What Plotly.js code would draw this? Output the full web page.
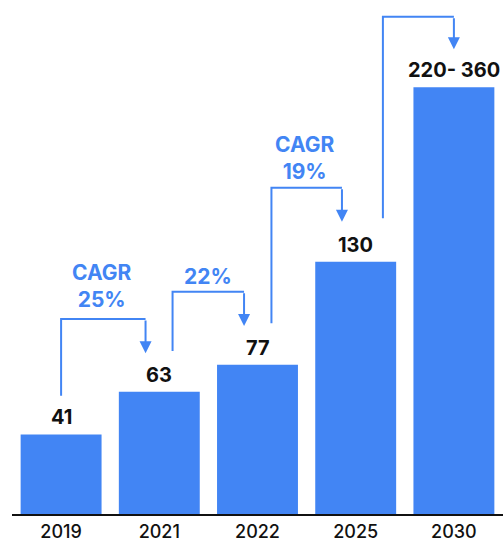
<!DOCTYPE html>
<html>
<head>
<meta charset="utf-8">
<script src="https://cdn.plot.ly/plotly-3.0.1.min.js"></script>
<style>html,body{margin:0;padding:0;background:#fff;}#chart{width:503px;height:542px;}</style>
</head>
<body>
<div id="chart"></div>
<script>
const years = ["2019", "2021", "2022", "2025", "2030"];
const values = [41, 63, 77, 130, 220];
const valueLabels = ["41", "63", "77", "130", "220- 360"];
const cagrLabels = ["CAGR<br>25%", "22%", "CAGR<br>19%", ""];

const BLUE = "#4285F4";
const FONT = "Inter, Roboto, sans-serif";

// bracket geometry (layout only): [x0, yBottom, yTop, x1, yTip] in category index / y units
const brackets = [
  [0.0, 61.0, 100.5, 0.860, 82.9],
  [1.135, 84.0, 114.6, 1.863, 96.9],
  [2.142, 98.3, 168.2, 2.860, 150.7],
  [3.277, 152.5, 256.4, 4.0, 239.6]
];
const cagrPos = [[0.416, 117.3], [1.499, 122.2], [2.486, 183.5]];

const shapes = [];
const annotations = [];

brackets.forEach(b => {
  shapes.push({
    type: "path", xref: "x2", yref: "y",
    path: `M${b[0]},${b[1]} L${b[0]},${b[2]} L${b[3]},${b[2]}`,
    line: {color: BLUE, width: 2}
  });
  annotations.push({
    xref: "x2", yref: "y", axref: "x2", ayref: "y",
    x: b[3], y: b[4], ax: b[3], ay: b[2],
    text: "", showarrow: true, arrowhead: 2, arrowsize: 1.2,
    arrowwidth: 2, arrowcolor: BLUE, standoff: 0
  });
});

cagrPos.forEach((p, i) => {
  annotations.push({
    xref: "x2", yref: "y", x: p[0], y: p[1],
    text: cagrLabels[i], showarrow: false,
    font: {family: FONT, size: 21, color: BLUE, weight: 700},
    xanchor: "center", yanchor: "middle"
  });
});

years.forEach((yr, i) => {
  annotations.push({
    xref: "x2", yref: "y", x: i, y: values[i],
    text: valueLabels[i], showarrow: false,
    xanchor: "center", yanchor: "bottom", yshift: 3,
    font: {family: FONT, size: 20, color: "#111", weight: 700}
  });
});

const data = [{
  type: "bar",
  x: years,
  y: values,
  marker: {color: BLUE},
  hoverinfo: "skip"
}];

const layout = {
  width: 503, height: 542,
  margin: {l: 12, r: 0, t: 0, b: 28, pad: 0},
  paper_bgcolor: "#fff", plot_bgcolor: "#fff",
  bargap: 0.176,
  showlegend: false,
  xaxis: {
    type: "category", range: [-0.5, 4.5],
    showline: true, linecolor: "#111", linewidth: 2,
    showgrid: false, zeroline: false,
    ticks: "",
    tickfont: {family: FONT, size: 18, color: "#111", weight: 500}
  },
  xaxis2: {
    overlaying: "x", range: [-0.5, 4.5], visible: false, type: "linear"
  },
  yaxis: {
    range: [0, 265], visible: false, showgrid: false, zeroline: false
  },
  shapes: shapes,
  annotations: annotations
};

Plotly.newPlot("chart", data, layout, {displayModeBar: false, staticPlot: true});
</script>
</body>
</html>
